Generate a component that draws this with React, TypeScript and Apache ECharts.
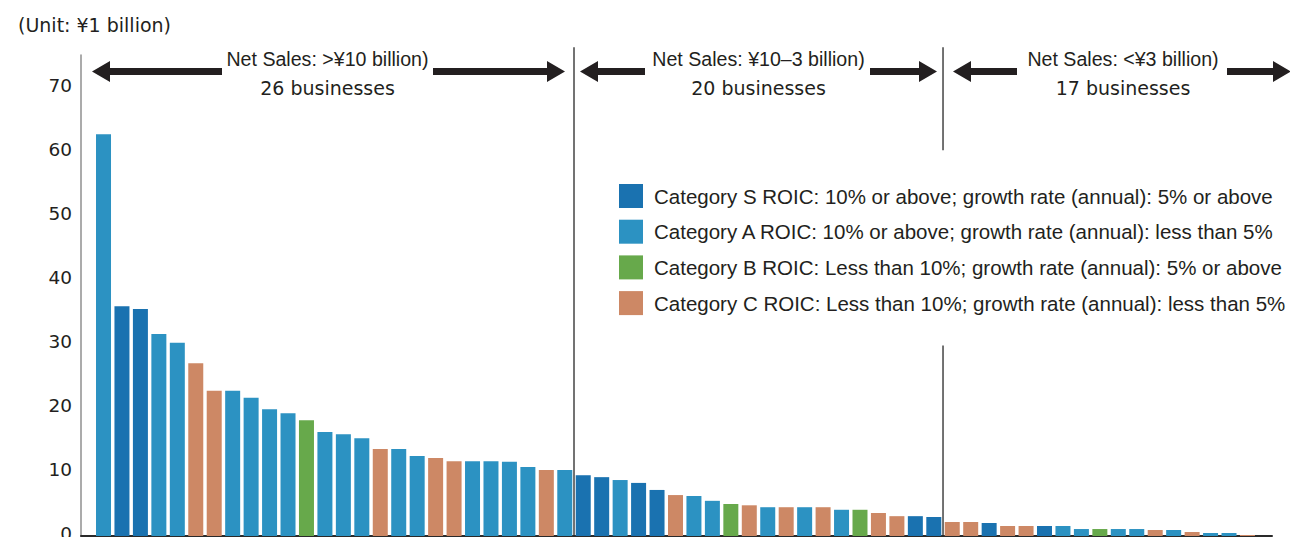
import React, { useEffect, useRef } from 'react';
import * as echarts from 'echarts';

// ---- data ----
const values = [
  62.8, 35.9, 35.5, 31.6, 30.2, 27.0, 22.7, 22.7, 21.6, 19.8,
  19.2, 18.1, 16.25, 15.9, 15.3, 13.6, 13.6, 12.5, 12.2, 11.7,
  11.7, 11.7, 11.6, 10.8, 10.3, 10.3,
  9.5, 9.2, 8.75, 8.3, 7.2, 6.4, 6.25, 5.5, 5.0, 4.8,
  4.5, 4.5, 4.5, 4.5, 4.1, 4.1, 3.6, 3.1, 3.1, 2.97,
  2.19, 2.19, 2.03, 1.56, 1.56, 1.56, 1.56, 1.09, 1.09, 1.09,
  1.09, 0.94, 0.94, 0.63, 0.47, 0.47, 0.16,
];
const categories = [
  'A', 'S', 'S', 'A', 'A', 'C', 'C', 'A', 'A', 'A',
  'A', 'B', 'A', 'A', 'A', 'C', 'A', 'A', 'C', 'C',
  'A', 'A', 'A', 'A', 'C', 'A',
  'S', 'S', 'A', 'S', 'S', 'C', 'A', 'A', 'B', 'C',
  'A', 'C', 'A', 'C', 'A', 'B', 'C', 'C', 'S', 'S',
  'C', 'C', 'S', 'C', 'C', 'S', 'A', 'A', 'B', 'A',
  'A', 'C', 'A', 'C', 'A', 'A', 'C',
];
const legendKeys = ['S', 'A', 'B', 'C'];
const legendLabels = [
  'Category S ROIC: 10% or above; growth rate (annual): 5% or above',
  'Category A ROIC: 10% or above; growth rate (annual): less than 5%',
  'Category B ROIC: Less than 10%; growth rate (annual): 5% or above',
  'Category C ROIC: Less than 10%; growth rate (annual): less than 5%',
];
const legendColors = ['#1a72b0', '#2c92c2', '#67a94b', '#cd8865'];
const sectionSizes = [26, 20, 17];
const sectionTitles = [
  'Net Sales: >¥10 billion)',
  'Net Sales: ¥10–3 billion)',
  'Net Sales: <¥3 billion)',
];
const unitText = '(Unit: ¥1 billion)';
const yTicks = [0, 10, 20, 30, 40, 50, 60, 70];

const REG = '"DejaVu Sans", Inter, "Liberation Sans", Arial, sans-serif';
const COND = '"Liberation Sans", Arial, sans-serif';
const INK = '#231f20';

export default function App() {
  const ref = useRef<HTMLDivElement>(null);

  useEffect(() => {
    document.body.style.margin = '0';
    const chart = echarts.init(ref.current!, null, { renderer: 'svg' });

    const series = legendKeys.map((k, si) => ({
      name: legendLabels[si],
      type: 'bar',
      stack: 'all',
      barWidth: 15,
      itemStyle: { color: legendColors[si] },
      data: values
        .map((v, i) => (categories[i] === k ? [i, v] : null))
        .filter((d) => d !== null),
    }));

    chart.setOption({
      animation: false,
      grid: { left: 81, right: 18, top: 55, bottom: 1, containLabel: false, outerBoundsMode: 'none' },
      xAxis: {
        type: 'value',
        min: -1.22,
        max: 63.33,
        axisLine: { show: true, onZero: false, lineStyle: { color: '#2a2a2a', width: 2 } },
        axisTick: { show: false },
        axisLabel: { show: false },
        splitLine: { show: false },
      },
      yAxis: {
        type: 'value',
        min: 0,
        max: 75.2,
        interval: 10,
        axisLine: { show: true, onZero: false, lineStyle: { color: '#8f8f8f', width: 1.5 } },
        axisTick: { show: false },
        splitLine: { show: false },
        axisLabel: {
          showMaxLabel: false,
          margin: 9,
          fontSize: 18.5,
          fontFamily: REG,
          color: INK,
          verticalAlign: 'bottom',
          lineHeight: 6,
          formatter: (v: number) => (yTicks.includes(v) ? String(v) : ''),
        },
      },
      legend: {
        orient: 'vertical',
        left: 619,
        top: 184,
        padding: 0,
        itemWidth: 24,
        itemHeight: 24,
        itemGap: 11.7,
        icon: 'rect',
        selectedMode: false,
        data: legendLabels,
        textStyle: { fontSize: 20.5, fontFamily: COND, color: INK, padding: [0, 0, 0, 6] },
      },
      series,
    });

    const px = (x: number, y: number) =>
      chart.convertToPixel({ gridIndex: 0 }, [x, y]) as number[];

    const b1 = sectionSizes[0] - 0.5;
    const b2 = sectionSizes[0] + sectionSizes[1] - 0.5;
    const topVal = 76.4;
    const sepColor = '#444';
    const lines: any[] = [];
    const seg = (x: number, y0: number, y1: number) => {
      const p0 = px(x, y0);
      const p1 = px(x, y1);
      lines.push({
        type: 'line',
        silent: true,
        shape: { x1: p0[0], y1: p0[1], x2: p1[0], y2: p1[1] },
        style: { stroke: sepColor, lineWidth: 1.5 },
      });
    };
    seg(b1, 0, topVal);
    seg(b2, 0, 29.8);
    seg(b2, 60.3, topVal);

    const x0 = px(-1.22, 0)[0];
    const xb1 = px(b1, 0)[0];
    const xb2 = px(b2, 0)[0];
    const centers = [(x0 + xb1) / 2, (xb1 + xb2) / 2, xb2 + 180];
    const arrowSpecs = [
      [92, 222, 433, 565],
      [580, 645, 870, 937],
      [953, 1017, 1227, 1291],
    ];
    const cy = 71.5;
    const arrow = (tip: number, end: number) => {
      const d = end > tip ? 1 : -1;
      const h = tip + d * 18;
      return {
        type: 'polygon',
        silent: true,
        shape: {
          points: [
            [tip, cy],
            [h, cy - 10.5],
            [h, cy - 3.5],
            [end, cy - 3.5],
            [end, cy + 3.5],
            [h, cy + 3.5],
            [h, cy + 10.5],
          ],
        },
        style: { fill: INK },
      };
    };
    const texts: any[] = [];
    sectionTitles.forEach((t, i) => {
      const c = centers[i];
      texts.push({
        type: 'text',
        silent: true,
        style: {
          x: c, y: 59, text: t, fontSize: 19.6, fontFamily: COND, fill: INK,
          align: 'center', verticalAlign: 'middle', textAlign: 'center', textVerticalAlign: 'middle',
        },
      });
      texts.push({
        type: 'text',
        silent: true,
        style: {
          x: c, y: 88, text: `${sectionSizes[i]} businesses`, fontSize: 19, fontFamily: REG, fill: INK,
          align: 'center', verticalAlign: 'middle', textAlign: 'center', textVerticalAlign: 'middle',
        },
      });
      const a = arrowSpecs[i];
      texts.push(arrow(a[0], a[1]));
      texts.push(arrow(a[3], a[2]));
    });
    texts.push({
      type: 'text',
      silent: true,
      style: {
        x: 18, y: 25, text: unitText, fontSize: 19, fontFamily: REG, fill: INK,
        align: 'left', verticalAlign: 'middle', textAlign: 'left', textVerticalAlign: 'middle',
      },
    });

    chart.setOption({ graphic: [...lines, ...texts] });

    return () => chart.dispose();
  }, []);

  return <div ref={ref} style={{ width: 1290, height: 537 }} />;
}
